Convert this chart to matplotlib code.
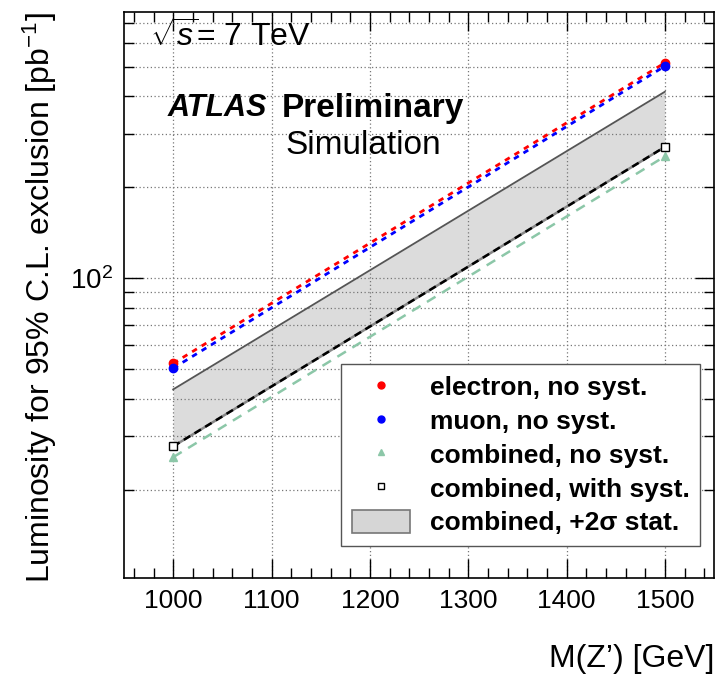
import matplotlib
matplotlib.use("Agg")
import matplotlib.pyplot as plt
from matplotlib.ticker import MultipleLocator, LogLocator, NullFormatter, FixedLocator, FixedFormatter
from matplotlib.lines import Line2D
from matplotlib.patches import Patch

plt.rcParams['font.family'] = ['Liberation Sans', 'DejaVu Sans']
plt.rcParams['mathtext.fontset'] = 'custom'
plt.rcParams['mathtext.rm'] = 'Liberation Sans'
plt.rcParams['mathtext.it'] = 'Liberation Sans:italic'
plt.rcParams['mathtext.bf'] = 'Liberation Sans:bold'

# Z' masses and luminosity for exclusion
mass = [1000, 1500]
lumi_electron = [52.3, 516]
lumi_muon = [50.4, 503]
lumi_comb = [25.6, 253]
lumi_comb_syst = [27.8, 272]
lumi_comb_2sigma = [42.9, 414]

fig = plt.figure(figsize=(7.19, 6.76), dpi=100)
ax = fig.add_axes([124/719, 1 - 578/676, 590/719, 566/676])

ax.set_yscale('log')
ax.set_xlim(950, 1550)
ax.set_ylim(10.2, 760)

# grid
ax.grid(True, which='both', axis='y', linestyle=(0, (1, 2)), color='#777777', lw=0.9, zorder=0)
ax.grid(True, which='major', axis='x', linestyle=(0, (1, 2)), color='#777777', lw=0.9, zorder=0)

# band
ax.fill_between(mass, lumi_comb_syst, lumi_comb_2sigma, color='#d6d6d6', alpha=0.85, lw=0, zorder=1)
ax.plot(mass, lumi_comb_2sigma, color='#555555', lw=1.3, zorder=2)

# lines
ax.plot(mass, lumi_comb, color='#8cc7a8', lw=1.8, ls=(0, (4, 3)), zorder=3)
ax.plot(mass, lumi_comb_syst, color='#888888', lw=1.8, zorder=3)
ax.plot(mass, lumi_comb_syst, color='black', lw=1.8, ls=(0, (3, 2)), zorder=3)
ax.plot(mass, lumi_electron, color='red', lw=2.0, ls=(0, (2, 2)), zorder=3)
ax.plot(mass, lumi_muon, color='blue', lw=2.0, ls=(0, (2, 2)), zorder=3)

# markers
ax.plot(mass, lumi_comb, '^', color='#8cc7a8', ms=6, zorder=4)
ax.plot(mass, lumi_comb_syst, 's', mfc='white', mec='black', mew=1.0, ms=6, zorder=4)
ax.plot(mass, lumi_electron, 'o', color='red', ms=6, zorder=4)
ax.plot(mass, lumi_muon, 'o', color='blue', ms=6, zorder=4)

# ticks
ax.xaxis.set_major_locator(MultipleLocator(100))
ax.xaxis.set_minor_locator(MultipleLocator(20))
ax.yaxis.set_major_locator(FixedLocator([100]))
ax.yaxis.set_major_formatter(FixedFormatter([r'$10^2$']))
ax.yaxis.set_minor_locator(LogLocator(base=10, subs=range(2, 10)))
ax.yaxis.set_minor_formatter(NullFormatter())
ax.tick_params(which='both', direction='in', top=True, right=True, labelsize=19, width=1.0)
ax.tick_params(which='major', length=14)
ax.tick_params(which='minor', length=7)
ax.tick_params(axis='x', pad=8)
ax.tick_params(axis='y', pad=8, labelsize=20)
for s in ax.spines.values():
    s.set_linewidth(1.2)

ax.set_xlabel('M(Z\u2019) [GeV]', fontsize=23, loc='right', labelpad=22)
ax.set_ylabel(r'Luminosity for 95% C.L. exclusion [pb$^{-1}$]', fontsize=23, loc='top', labelpad=8)

# texts
ax.text(150/719, 1 - 37/676, r'$\sqrt{s}$= 7 TeV', transform=fig.transFigure, fontsize=23, va='center', ha='left')
ax.text(168/719, 1 - 108/676, 'ATLAS', transform=fig.transFigure, fontsize=22, fontweight='bold',
        style='italic', va='center', ha='left')
ax.text(282/719, 1 - 108/676, 'Preliminary', transform=fig.transFigure, fontsize=24, fontweight='bold',
        va='center', ha='left')
ax.text(285/719, 1 - 145/676, 'Simulation', transform=fig.transFigure, fontsize=24, va='center', ha='left')

# legend
handles = [
    Line2D([], [], marker='o', color='red', ls='none', ms=5),
    Line2D([], [], marker='o', color='blue', ls='none', ms=5),
    Line2D([], [], marker='^', color='#8cc7a8', ls='none', ms=5),
    Line2D([], [], marker='s', mfc='white', mec='black', ls='none', ms=5),
    Patch(facecolor='#d6d6d6', edgecolor='#777777', lw=1.2),
]
labels = ['electron, no syst.', 'muon, no syst.', 'combined, no syst.',
          'combined, with syst.', 'combined, +2\u03c3 stat.']
leg = ax.legend(handles, labels, loc='lower right', bbox_to_anchor=(700/719, 1 - 546/676),
                bbox_transform=fig.transFigure, prop={'size': 19, 'weight': 'bold'},
                frameon=True, fancybox=False, edgecolor='#555555', framealpha=1,
                handlelength=2.2, handleheight=1.0, labelspacing=0.3, borderpad=0.4,
                handletextpad=0.75, borderaxespad=0)
leg.get_frame().set_linewidth(1.0)

fig.savefig('out.png', dpi=100)
